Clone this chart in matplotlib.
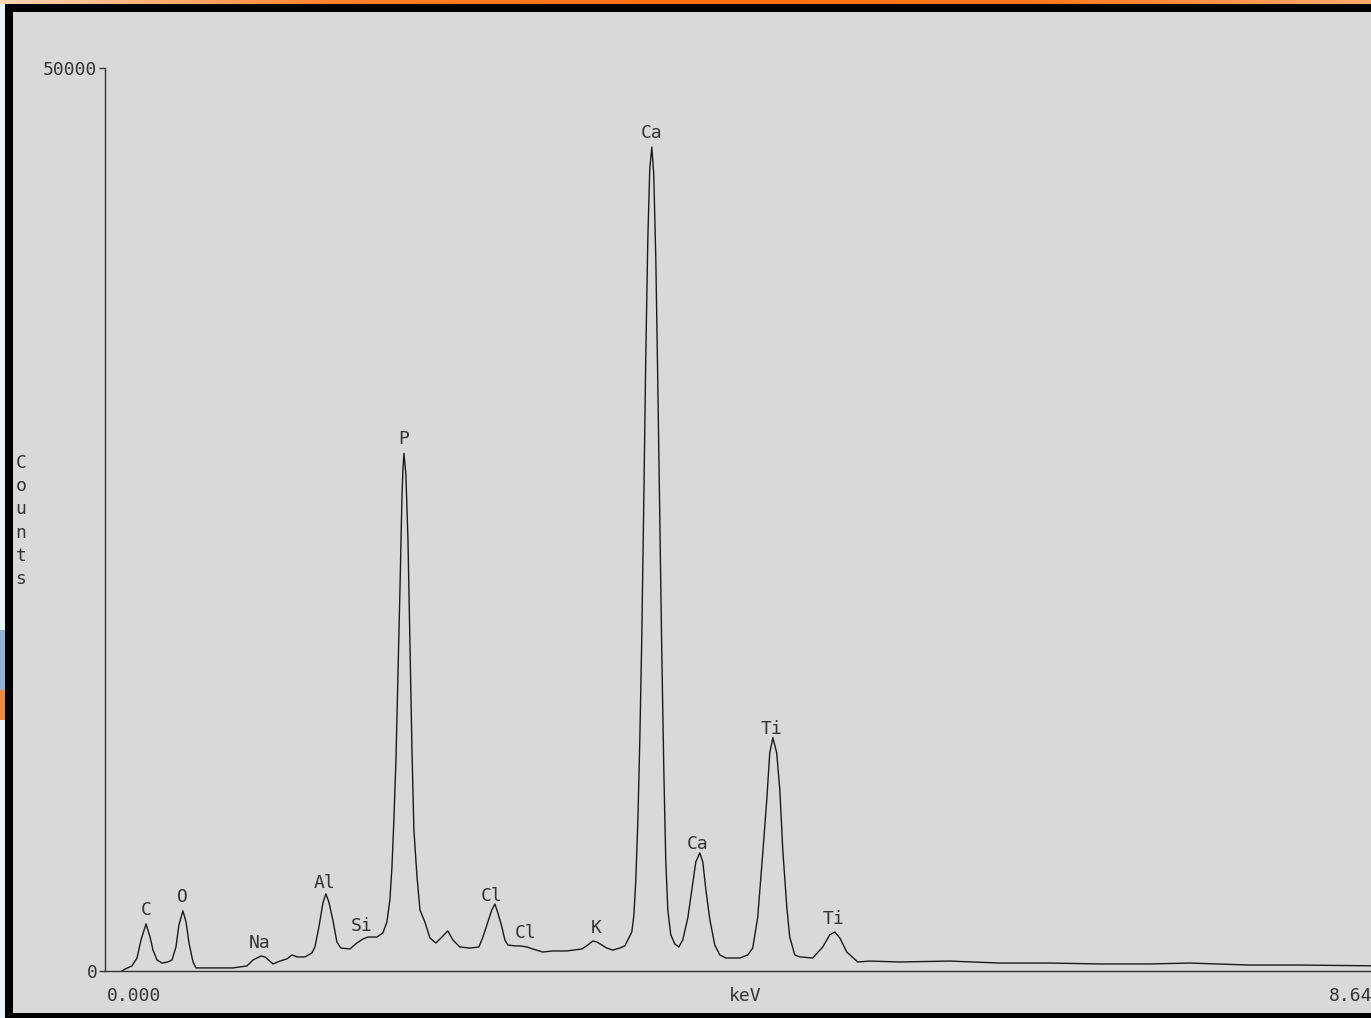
import numpy as np
import matplotlib
matplotlib.use('Agg')
import matplotlib.pyplot as plt
from matplotlib.patches import Rectangle

# EDS spectrum (keV, counts)
kev = [0.115, 0.135, 0.182, 0.216, 0.243, 0.277, 0.304, 0.324, 0.351, 0.385,
       0.425, 0.452, 0.479, 0.499, 0.526, 0.547, 0.567, 0.594, 0.614, 0.864,
       0.958, 0.999, 1.053, 1.080, 1.134, 1.181, 1.228, 1.262, 1.296, 1.350,
       1.397, 1.417, 1.444, 1.471, 1.491, 1.511, 1.538, 1.565, 1.592, 1.653,
       1.700, 1.741, 1.775, 1.835, 1.876, 1.903, 1.923, 1.937, 1.950, 1.964,
       1.977, 1.991, 2.004, 2.011, 2.018, 2.031, 2.045, 2.058, 2.072, 2.085,
       2.105, 2.126, 2.159, 2.193, 2.233, 2.274, 2.314, 2.348, 2.395, 2.463,
       2.524, 2.551, 2.578, 2.611, 2.632, 2.652, 2.679, 2.699, 2.719, 2.767,
       2.800, 2.848, 2.888, 2.955, 3.023, 3.117, 3.219, 3.259, 3.293, 3.320,
       3.354, 3.387, 3.428, 3.475, 3.509, 3.529, 3.556, 3.570, 3.583, 3.597,
       3.610, 3.623, 3.637, 3.650, 3.664, 3.677, 3.691, 3.704, 3.718, 3.731,
       3.745, 3.758, 3.772, 3.785, 3.799, 3.819, 3.846, 3.873, 3.900, 3.934,
       3.961, 3.988, 4.015, 4.035, 4.056, 4.083, 4.116, 4.150, 4.190, 4.285,
       4.339, 4.372, 4.406, 4.440, 4.467, 4.487, 4.508, 4.534, 4.555, 4.575,
       4.602, 4.622, 4.656, 4.690, 4.777, 4.845, 4.892, 4.926, 4.960, 5.007,
       5.081, 5.162, 5.364, 5.702, 6.039, 6.377, 6.714, 7.051, 7.321, 7.726,
       8.063, 8.637]
counts = [0, 110, 280, 720, 1720, 2610, 1880, 1160, 610, 440,
          500, 610, 1330, 2550, 3330, 2720, 1550, 500, 170, 170,
          280, 610, 830, 780, 390, 550, 670, 890, 780, 780,
          1000, 1330, 2440, 3770, 4270, 3820, 2830, 1610, 1270, 1220,
          1550, 1770, 1880, 1880, 2110, 2720, 3940, 5760, 8370, 11700,
          16130, 21120, 26110, 27770, 28660, 27490, 23890, 18350, 12250, 7820,
          5320, 3380, 2720, 1830, 1550, 1880, 2220, 1720, 1330, 1270,
          1330, 1880, 2550, 3380, 3710, 3210, 2440, 1720, 1440, 1390,
          1390, 1330, 1220, 1050, 1110, 1110, 1220, 1440, 1660, 1610,
          1440, 1270, 1160, 1270, 1390, 1720, 2160, 3100, 5040, 8370,
          12800, 18350, 26110, 33870, 40520, 44400, 45620, 44120, 39410, 32760,
          25000, 17790, 11140, 6150, 3380, 2000, 1500, 1330, 1720, 2940,
          4490, 6040, 6540, 6040, 4490, 2830, 1440, 890, 720, 720,
          890, 1270, 2990, 6540, 9480, 12080, 12920, 12080, 10030, 6710,
          3550, 1880, 890, 780, 720, 1330, 2000, 2160, 1830, 1050,
          500, 550, 500, 550, 440, 440, 390, 390, 440, 330,
          330, 280]

peak_names = ['C', 'O', 'Na', 'Al', 'Si', 'P', 'Cl', 'Cl', 'K', 'Ca', 'Ca', 'Ti', 'Ti']
peak_kev = [0.277, 0.526, 1.046, 1.484, 1.734, 2.018, 2.611, 2.840, 3.313, 3.691, 4.001, 4.500, 4.919]

y_ticks = [0, 50000]
x_min_label, x_max_label, x_title = '0.000', '8.640', 'keV'

W, H = 1371, 1018
BG = '#d9d9d9'
INK = '#333333'
plt.rcParams['font.family'] = ['DejaVu Sans Mono']


def box(x0, y0, w, h):
    # pixel box (top-left origin) -> figure fraction
    return [x0 / W, 1 - (y0 + h) / H, w / W, h / H]


fig = plt.figure(figsize=(W / 100, H / 100), dpi=100, facecolor=BG)

ax = fig.add_axes(box(105, 68, 1280, 903))
ax.set_facecolor(BG)
ax.plot(kev, counts, color='#1a1a1a', lw=1.0)
ax.set_xlim(0, 8.64)
ax.set_ylim(0, 50000)
for s in ['top', 'right']:
    ax.spines[s].set_visible(False)
for s in ['left', 'bottom']:
    ax.spines[s].set_color(INK)
    ax.spines[s].set_linewidth(1.0)
ax.set_xticks([])
ax.set_yticks(y_ticks)
ax.set_yticklabels([str(v) for v in y_ticks])
ax.tick_params(axis='y', length=4, width=1, pad=1.5, labelsize=13,
               color=INK, labelcolor=INK)

# peak labels sit just above the trace
for name, e in zip(peak_names, peak_kev):
    yv = np.interp(e, kev, counts)
    ax.annotate(name, (e, yv), xytext=(0, 14), textcoords='offset pixels',
                ha='center', va='center', fontsize=13, color=INK)

ax.annotate(x_min_label, (0, 0), xycoords='axes fraction', xytext=(2, -25),
            textcoords='offset pixels', ha='left', va='center', fontsize=13, color=INK)
ax.annotate(x_max_label, (1, 0), xycoords='axes fraction', xytext=(-2, -25),
            textcoords='offset pixels', ha='right', va='center', fontsize=13, color=INK)
ax.annotate(x_title, (0.5, 0), xycoords='axes fraction', xytext=(0, -25),
            textcoords='offset pixels', ha='center', va='center', fontsize=13, color=INK)

fig.text(21 / W, 1 - 521 / H, 'C\no\nu\nn\nt\ns', ha='center', va='center',
         fontsize=13, color=INK, linespacing=1.38)

# window frame: black border, orange title strip, desktop sliver on the left
fig.add_artist(Rectangle((0, 0), 5 / W, 1, transform=fig.transFigure,
                         facecolor='#e6f7fa', edgecolor='none', zorder=10))
fig.add_artist(Rectangle((0, 1 - 720 / H), 5 / W, 90 / H, transform=fig.transFigure,
                         facecolor='#8fb4d6', edgecolor='none', zorder=10))
fig.add_artist(Rectangle((0, 1 - 720 / H), 5 / W, 30 / H, transform=fig.transFigure,
                         facecolor='#f08a3a', edgecolor='none', zorder=10))
fig.add_artist(Rectangle((5 / W, 0), 8 / W, 1, transform=fig.transFigure,
                         facecolor='black', edgecolor='none', zorder=10))
fig.add_artist(Rectangle((5 / W, 1 - 12 / H), 1, 8 / H, transform=fig.transFigure,
                         facecolor='black', edgecolor='none', zorder=10))
fig.add_artist(Rectangle((5 / W, 0), 1, 5 / H, transform=fig.transFigure,
                         facecolor='black', edgecolor='none', zorder=10))

strip = fig.add_axes(box(0, 0, W, 4), zorder=11)
stops = np.array([[252, 214, 180], [255, 128, 40], [255, 110, 15], [255, 118, 25], [252, 170, 110]]) / 255
pos = np.linspace(0, 1, len(stops))
t = np.linspace(0, 1, 400)
grad = np.stack([np.interp(t, pos, stops[:, k]) for k in range(3)], axis=-1)[None, :, :]
strip.imshow(grad, aspect='auto', extent=[0, 1, 0, 1])
strip.set_axis_off()

fig.savefig('out.png', dpi=100, facecolor=BG)
